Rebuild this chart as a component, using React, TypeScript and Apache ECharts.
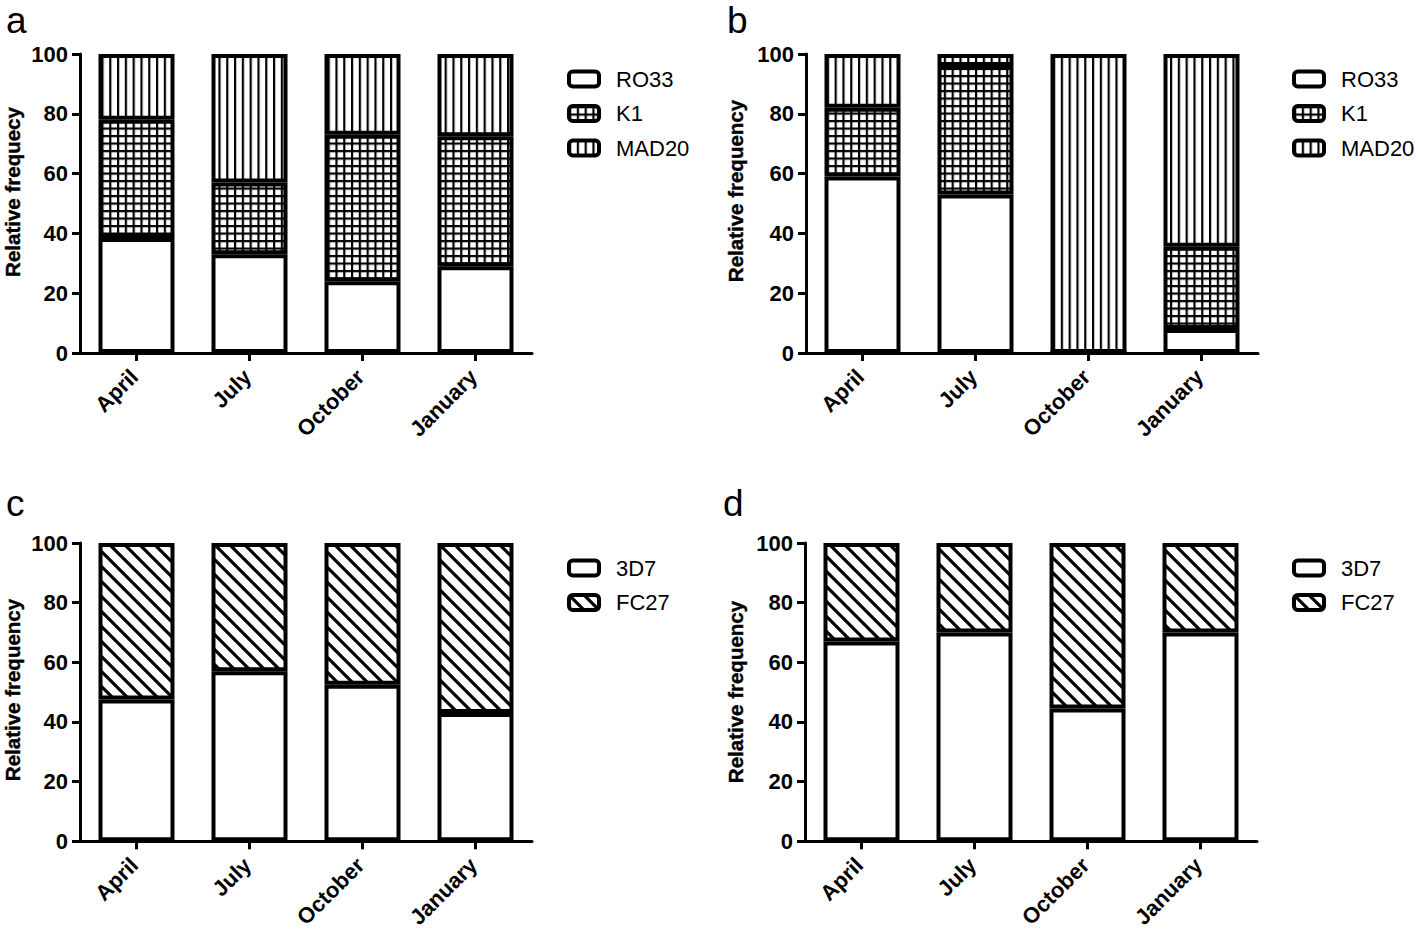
import React, { useEffect, useRef } from "react";
import * as echarts from "echarts";

const months = ["April", "July", "October", "January"];
const yTicks = [0, 20, 40, 60, 80, 100];

// Panel a (msp1 families)
const aRO33 = [38.5, 33, 24, 29];
const aK1 = [39.5, 24, 49, 43.5];
const aMAD20 = [22, 43, 27, 27.5];
// Panel b
const bRO33 = [59, 53, 0, 8];
const bK1 = [23, 43, 0, 27.5];
const bMAD20 = [18, 4, 100, 64.5];
// Panel c (msp2 families)
const c3D7 = [47.5, 57, 52.5, 43];
const cFC27 = [52.5, 43, 47.5, 57];
// Panel d
const d3D7 = [67, 70, 44.5, 70];
const dFC27 = [33, 30, 55.5, 30];

const panelLetters = ["a", "b", "c", "d"];
const yNames = ["Relative frequecy", "Relative frequency", "Relative frequency", "Relative frequency"];

const FONT = "'Liberation Sans', Arial, Helvetica, sans-serif";

function svgUrl(svg: string) {
  return "data:image/svg+xml;charset=utf-8," + encodeURIComponent(svg);
}

const vlineSvg = svgUrl(
  '<svg xmlns="http://www.w3.org/2000/svg" width="7.8" height="8"><rect width="7.8" height="8" fill="#fff"/><rect x="0" y="0" width="2.2" height="8" fill="#000"/></svg>'
);
const gridSvg = svgUrl(
  '<svg xmlns="http://www.w3.org/2000/svg" width="7.8" height="7.5"><rect width="7.8" height="7.5" fill="#fff"/><rect x="0" y="0" width="2.2" height="7.5" fill="#000"/><rect x="0" y="0" width="7.8" height="2.2" fill="#000"/></svg>'
);
const hatchSvg = svgUrl(
  '<svg xmlns="http://www.w3.org/2000/svg" width="15" height="15"><rect width="15" height="15" fill="#fff"/><path d="M-2,-2 L17,17 M-4,11 L4,19 M11,-4 L19,4" stroke="#000" stroke-width="3.2" fill="none"/></svg>'
);

const patterns: Record<string, any> = {
  white: "#ffffff",
  vline: { image: vlineSvg, repeat: "repeat", imageWidth: 7.8, imageHeight: 8 },
  grid: { image: gridSvg, repeat: "repeat", imageWidth: 7.8, imageHeight: 7.5 },
  hatch: { image: hatchSvg, repeat: "repeat", imageWidth: 15, imageHeight: 15 },
};

const grids = [
  { left: 80, top: 54 },
  { left: 806, top: 54 },
  { left: 80, top: 543 },
  { left: 805, top: 543 },
];

export default function App() {
  const ref = useRef<HTMLDivElement>(null);

  useEffect(() => {
    if (!ref.current) return;
    const chart = echarts.init(ref.current, null, { renderer: "svg" });

    const panelSeries = [
      [
        { name: "RO33", data: aRO33, fill: "white" },
        { name: "K1", data: aK1, fill: "grid" },
        { name: "MAD20", data: aMAD20, fill: "vline" },
      ],
      [
        { name: "RO33", data: bRO33, fill: "white" },
        { name: "K1", data: bK1, fill: "grid" },
        { name: "MAD20", data: bMAD20, fill: "vline" },
      ],
      [
        { name: "3D7", data: c3D7, fill: "white" },
        { name: "FC27", data: cFC27, fill: "hatch" },
      ],
      [
        { name: "3D7", data: d3D7, fill: "white" },
        { name: "FC27", data: dFC27, fill: "hatch" },
      ],
    ];

    const series: any[] = [];
    panelSeries.forEach((list, pi) => {
      list.forEach((s) => {
        series.push({
          type: "bar",
          name: s.name,
          xAxisIndex: pi,
          yAxisIndex: pi,
          stack: "p" + pi,
          barWidth: 76,
          data: s.data,
          itemStyle: {
            color: patterns[s.fill],
            borderColor: "#000",
            borderWidth: 4,
          },
          emphasis: { disabled: true },
        });
      });
    });

    const axisLineStyle = { color: "#000", width: 3 };

    const option: any = {
      animation: false,
      grid: grids.map((g) => ({ left: g.left, top: g.top, width: 452, height: 299 })),
      xAxis: grids.map((_, i) => ({
        type: "category",
        gridIndex: i,
        data: months,
        boundaryGap: true,
        axisLine: { show: true, lineStyle: axisLineStyle },
        axisTick: { show: true, alignWithLabel: true, length: 8, lineStyle: axisLineStyle },
        axisLabel: {
          interval: 0,
          rotate: 45,
          margin: 18,
          padding: [0, 3, 0, 0],
          color: "#000",
          fontFamily: FONT,
          fontWeight: "bold",
          fontSize: 22,
        },
        splitLine: { show: false },
      })),
      yAxis: grids.map((_, i) => ({
        type: "value",
        gridIndex: i,
        min: 0,
        max: 100,
        interval: 20,
        axisLine: { show: true, lineStyle: axisLineStyle },
        axisTick: { show: true, length: 8, lineStyle: axisLineStyle },
        axisLabel: {
          margin: 12,
          color: "#000",
          fontFamily: FONT,
          fontWeight: "bold",
          fontSize: 22,
          formatter: (v: number) => (yTicks.includes(v) ? String(v) : ""),
        },
        splitLine: { show: false },
      })),
      legend: [
        { left: 562, top: 63, data: ["RO33", "K1", "MAD20"] },
        { left: 1287, top: 63, data: ["RO33", "K1", "MAD20"] },
        { left: 562, top: 552, data: ["3D7", "FC27"] },
        { left: 1287, top: 552, data: ["3D7", "FC27"] },
      ].map((l) => ({
        ...l,
        orient: "vertical",
        itemWidth: 30,
        itemHeight: 15,
        itemGap: 12.5,
        icon: "roundRect",
        selectedMode: false,
        itemStyle: { borderColor: "#000", borderWidth: 4 },
        textStyle: { color: "#000", fontFamily: FONT, fontSize: 22, padding: [0, 0, 0, 12] },
      })),
      series,
      graphic: [
        ...panelLetters.map((t, i) => ({
          type: "text",
          left: [6, 727, 6, 723][i],
          top: [2, 2, 485, 485][i],
          style: { text: t, font: `37px ${FONT}`, fill: "#000" },
        })),
        ...yNames.map((t, i) => ({
          type: "text",
          x: [12.5, 735, 12.5, 735][i],
          y: [192, 191, 690, 692][i],
          rotation: Math.PI / 2,
          style: {
            text: t,
            font: `bold 20.5px ${FONT}`,
            fill: "#000",
            stroke: "#000",
            lineWidth: 0.4,
            align: "center",
            verticalAlign: "middle",
          },
        })),
      ],
    };

    chart.setOption(option);
    return () => chart.dispose();
  }, []);

  return (
    <div
      ref={ref}
      style={{ position: "fixed", left: 0, top: 0, width: 1418, height: 931, background: "#fff" }}
    />
  );
}
